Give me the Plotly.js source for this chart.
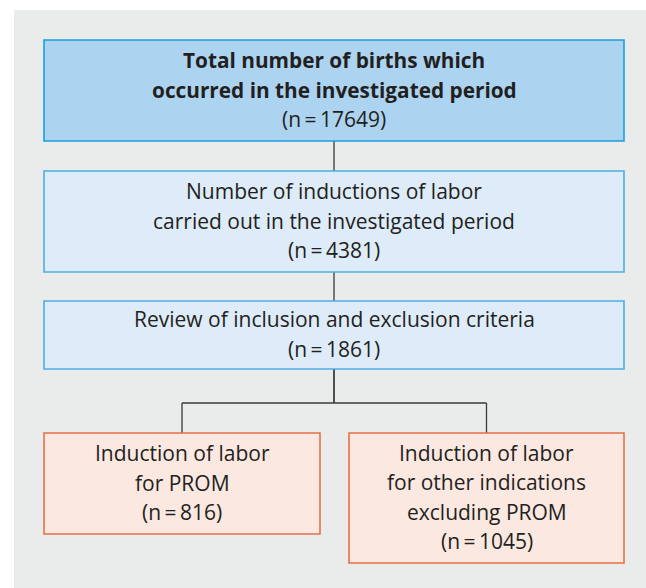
<!DOCTYPE html>
<html>
<head>
<meta charset="utf-8">
<script src="https://cdn.plot.ly/plotly-3.0.1.min.js"></script>
<style>html,body{margin:0;padding:0;background:#fff;}#chart{width:646px;height:588px;}</style>
</head>
<body>
<div id="chart"></div>
<script>
// ---- data ----
const nodeTitleLines = [
  ["Total number of births which", "occurred in the investigated period"],
  ["Number of inductions of labor", "carried out in the investigated period"],
  ["Review of inclusion and exclusion criteria"],
  ["Induction of labor", "for PROM"],
  ["Induction of labor", "for other indications", "excluding PROM"]
];
const nodeCounts = [17649, 4381, 1861, 816, 1045];
const nodeParents = [null, 0, 1, 2, 2];

// ---- layout geometry (pixels) ----
const W = 646, H = 588;
const boxes = [
  {x0: 44, x1: 624, y0: 40, y1: 141},
  {x0: 44, x1: 624, y0: 171, y1: 272},
  {x0: 44, x1: 624, y0: 301, y1: 369},
  {x0: 44, x1: 320, y0: 433, y1: 534},
  {x0: 349, x1: 624, y0: 433, y1: 563}
];
const styles = [
  {fill: "#acd3f0", line: "#1c9fde", bold: true},
  {fill: "#deebf8", line: "#4daee4", bold: false},
  {fill: "#deebf8", line: "#4daee4", bold: false},
  {fill: "#fbe8e0", line: "#e6704a", bold: false},
  {fill: "#fbe8e0", line: "#e6704a", bold: false}
];
const lineGap = 29.5;
const fontFamily = "Open Sans, Noto Sans, sans-serif";
const fontSize = 21;
const boldSize = 20.8;
const textColor = "#231f20";
const connColor = "#3a3a3a";
const splitY = 403;

const shapes = [];
const annotations = [];

// white margins around the grey panel
shapes.push({type: "rect", xref: "x", yref: "y", x0: 0, x1: 14, y0: 0, y1: H,
  fillcolor: "#ffffff", line: {width: 0}, layer: "below"});
shapes.push({type: "rect", xref: "x", yref: "y", x0: 0, x1: W, y0: 0, y1: 10,
  fillcolor: "#ffffff", line: {width: 0}, layer: "below"});

// connectors
nodeParents.forEach((p, i) => {
  if (p === null) return;
  const pb = boxes[p], cb = boxes[i];
  const px = (pb.x0 + pb.x1) / 2, cx = (cb.x0 + cb.x1) / 2;
  const siblings = nodeParents.filter(q => q === p).length;
  const ln = {color: connColor, width: 1.3};
  if (siblings === 1) {
    shapes.push({type: "line", xref: "x", yref: "y", x0: px, x1: cx, y0: pb.y1, y1: cb.y0, line: ln});
  } else {
    shapes.push({type: "line", xref: "x", yref: "y", x0: px, x1: px, y0: pb.y1, y1: splitY, line: ln});
    shapes.push({type: "line", xref: "x", yref: "y", x0: px, x1: cx, y0: splitY, y1: splitY, line: ln});
    shapes.push({type: "line", xref: "x", yref: "y", x0: cx, x1: cx, y0: splitY, y1: cb.y0, line: ln});
  }
});

// boxes and texts
boxes.forEach((b, i) => {
  const s = styles[i];
  shapes.push({type: "rect", xref: "x", yref: "y", x0: b.x0, x1: b.x1, y0: b.y0, y1: b.y1,
    fillcolor: s.fill, line: {color: s.line, width: 1.6}});
  const lines = nodeTitleLines[i].map(t => ({t: s.bold ? "<b>" + t + "</b>" : t, size: s.bold ? boldSize : fontSize}));
  lines.push({t: "(n\u2009=\u2009" + nodeCounts[i] + ")", size: fontSize});
  const cx = (b.x0 + b.x1) / 2, cy = (b.y0 + b.y1) / 2 - 1;
  const n = lines.length;
  lines.forEach((L, k) => {
    annotations.push({xref: "x", yref: "y", x: cx, y: cy + (k - (n - 1) / 2) * lineGap,
      text: L.t, showarrow: false, xanchor: "center", yanchor: "middle",
      font: {family: fontFamily, size: L.size, color: textColor}});
  });
});

const layout = {
  width: W, height: H,
  margin: {l: 0, r: 0, t: 0, b: 0, pad: 0},
  paper_bgcolor: "#eaebeb", plot_bgcolor: "rgba(0,0,0,0)",
  xaxis: {range: [0, W], visible: false, fixedrange: true},
  yaxis: {range: [H, 0], visible: false, fixedrange: true},
  showlegend: false,
  shapes: shapes,
  annotations: annotations
};
Plotly.newPlot("chart", [], layout, {displayModeBar: false, staticPlot: true});
</script>
</body>
</html>
